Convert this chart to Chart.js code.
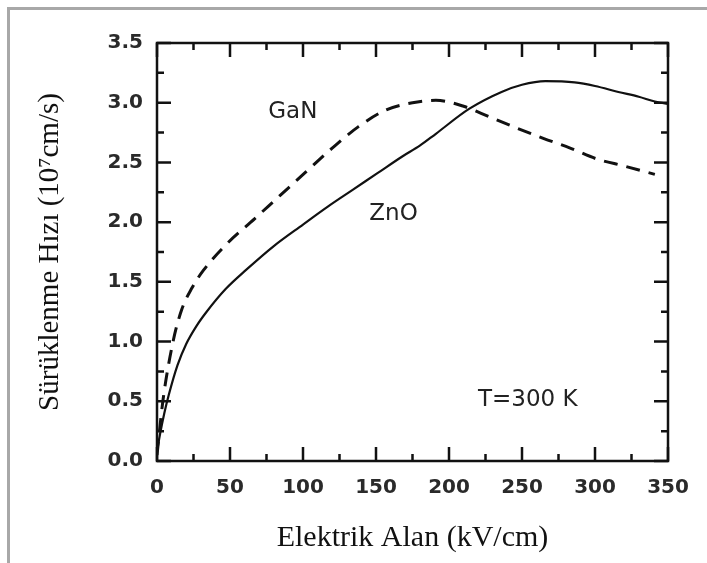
<!DOCTYPE html>
<html>
<head>
<meta charset="utf-8">
<script src="https://cdn.jsdelivr.net/npm/chart.js@4/dist/chart.umd.min.js"></script>
<style>
  html, body { margin: 0; padding: 0; background: #fff; }
  #wrap { position: relative; width: 707px; height: 563px; overflow: hidden; }
  #frame { position: absolute; left: 7px; top: 7px; width: 710px; height: 570px;
           border-top: 3px solid #a8a8a8; border-left: 3px solid #a8a8a8; pointer-events: none; }
  canvas { position: absolute; left: 0; top: 0; }
</style>
</head>
<body>
<div id="wrap">
  <canvas id="c" width="707" height="563"></canvas>
  <div id="frame"></div>
</div>
<script>
// ---- data ----
const fieldZnO = [0, 2, 5, 8, 14, 20, 27, 34, 47, 61, 80, 100, 117, 134, 151, 168, 180, 191, 214, 236, 250, 266, 286, 300, 316, 330, 341, 350];
const velZnO   = [0.08, 0.22, 0.4, 0.55, 0.8, 0.98, 1.13, 1.25, 1.44, 1.6, 1.8, 1.98, 2.13, 2.27, 2.41, 2.55, 2.64, 2.74, 2.95, 3.09, 3.15, 3.18, 3.17, 3.14, 3.09, 3.05, 3.01, 2.99];

const fieldGaN = [0, 4, 11, 17, 24, 32, 48, 67, 84, 102, 120, 138, 157, 175, 191, 210, 228, 246, 265, 283, 301, 320, 341];
const velGaN   = [0.05, 0.5, 1.0, 1.27, 1.45, 1.6, 1.82, 2.03, 2.22, 2.42, 2.62, 2.8, 2.94, 3.0, 3.02, 2.97, 2.88, 2.79, 2.70, 2.62, 2.53, 2.47, 2.40];

const xTicks = [0, 50, 100, 150, 200, 250, 300, 350];
const yTicks = [0.0, 0.5, 1.0, 1.5, 2.0, 2.5, 3.0, 3.5];

const xTitle = 'Elektrik Alan (kV/cm)';
const yTitle = 'Sürüklenme Hızı (10⁷cm/s)';

const notes = [
  { text: 'GaN',     x: 93,  y: 2.92 },
  { text: 'ZnO',     x: 162, y: 2.07 },
  { text: 'T=300 K', x: 254, y: 0.51 }
];

const toPts = (xs, ys) => xs.map((x, i) => ({ x: x, y: ys[i] }));

const framePlugin = {
  id: 'frameTicks',
  afterDatasetsDraw(chart) {
    const { ctx, chartArea: a, scales } = chart;
    const xs = scales.x, ys = scales.y;
    ctx.save();
    ctx.strokeStyle = '#111';
    ctx.lineWidth = 2.5;
    ctx.lineCap = 'butt';
    for (let v = 0; v <= 350; v += 25) {
      const px = xs.getPixelForValue(v);
      const len = (v % 50 === 0) ? 14 : 7;
      ctx.beginPath();
      ctx.moveTo(px, a.bottom); ctx.lineTo(px, a.bottom - len);
      ctx.moveTo(px, a.top);    ctx.lineTo(px, a.top + len);
      ctx.stroke();
    }
    for (let k = 0; k <= 14; k++) {
      const v = k * 0.25;
      const py = ys.getPixelForValue(v);
      const len = (k % 2 === 0) ? 14 : 7;
      ctx.beginPath();
      ctx.moveTo(a.left, py);  ctx.lineTo(a.left + len, py);
      ctx.moveTo(a.right, py); ctx.lineTo(a.right - len, py);
      ctx.stroke();
    }
    ctx.strokeRect(a.left, a.top, a.right - a.left, a.bottom - a.top);
    ctx.fillStyle = '#222';
    ctx.font = '23px "DejaVu Sans"';
    ctx.textAlign = 'center';
    ctx.textBaseline = 'middle';
    notes.forEach(n => {
      ctx.fillText(n.text, xs.getPixelForValue(n.x), ys.getPixelForValue(n.y));
    });
    ctx.restore();
  }
};

new Chart(document.getElementById('c'), {
  type: 'line',
  data: {
    datasets: [
      {
        label: 'ZnO',
        data: toPts(fieldZnO, velZnO),
        borderColor: '#111',
        borderWidth: 2.2,
        pointRadius: 0,
        fill: false,
        cubicInterpolationMode: 'monotone'
      },
      {
        label: 'GaN',
        data: toPts(fieldGaN, velGaN),
        borderColor: '#111',
        borderWidth: 3,
        borderDash: [14, 9],
        pointRadius: 0,
        fill: false,
        cubicInterpolationMode: 'monotone'
      }
    ]
  },
  options: {
    responsive: false,
    animation: false,
    devicePixelRatio: 1,
    layout: { padding: { left: 33, top: 43, right: 39, bottom: 7 } },
    plugins: { legend: { display: false }, tooltip: { enabled: false } },
    scales: {
      x: {
        type: 'linear',
        min: 0, max: 350,
        afterFit: s => { s.height = 95; },
        afterBuildTicks: s => { s.ticks = xTicks.map(v => ({ value: v })); },
        grid: { display: false, drawTicks: false },
        border: { display: false },
        ticks: {
          padding: 15,
          color: '#2a2a2a',
          font: { family: 'DejaVu Sans', size: 20, weight: 'bold' },
          maxRotation: 0,
          callback: v => String(v)
        },
        title: {
          display: true,
          text: xTitle,
          color: '#111',
          font: { family: 'Liberation Serif', size: 30 },
          padding: { top: 0, bottom: 0 }
        }
      },
      y: {
        type: 'linear',
        min: 0, max: 3.5,
        afterFit: s => { s.width = 124; },
        afterBuildTicks: s => { s.ticks = yTicks.map(v => ({ value: v })); },
        grid: { display: false, drawTicks: false },
        border: { display: false },
        ticks: {
          padding: 14,
          color: '#2a2a2a',
          font: { family: 'DejaVu Sans', size: 20, weight: 'bold' },
          callback: v => Number(v).toFixed(1)
        },
        title: {
          display: true,
          text: yTitle,
          color: '#111',
          font: { family: 'Liberation Serif', size: 29 },
          padding: { top: 0, bottom: 0 }
        }
      }
    }
  },
  plugins: [framePlugin]
});
</script>
</body>
</html>
